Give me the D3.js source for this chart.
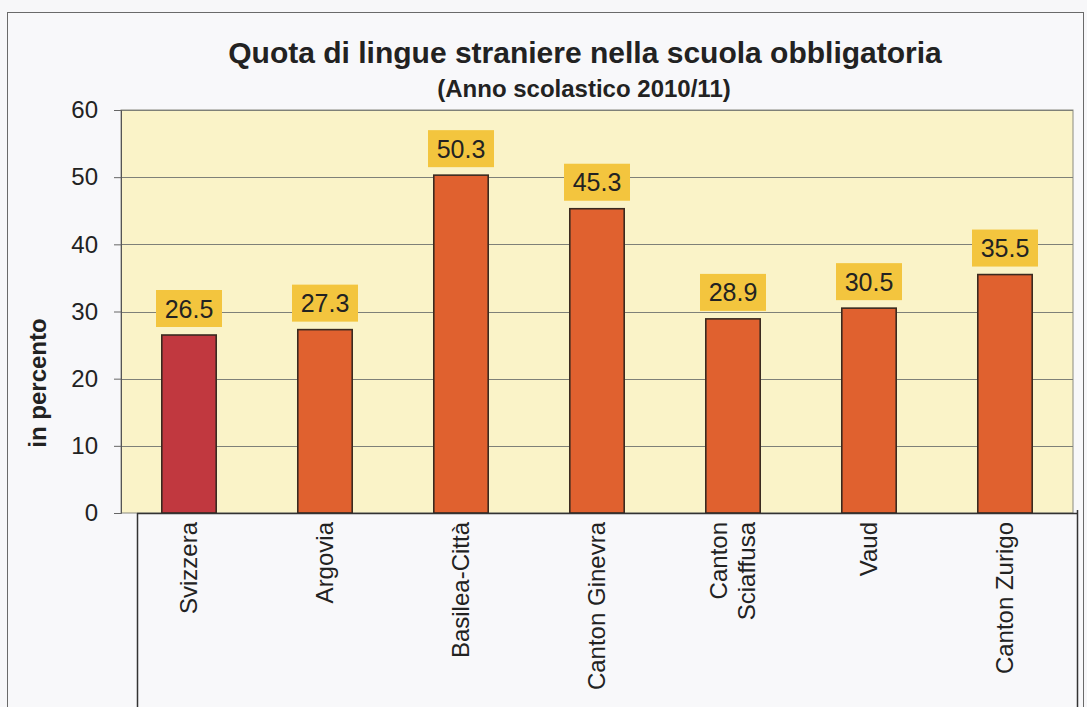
<!DOCTYPE html>
<html><head><meta charset="utf-8">
<script src="https://cdn.jsdelivr.net/npm/d3@7"></script>
<style>
html,body{margin:0;padding:0;background:#f7f7f9;}
text{font-family:"Liberation Sans",Arial,sans-serif;}
</style></head>
<body>
<svg id="c" width="1087" height="707"></svg>
<script>
const categories = [["Svizzera"],["Argovia"],["Basilea-Città"],["Canton Ginevra"],["Canton","Sciaffusa"],["Vaud"],["Canton Zurigo"]];
const values = [26.5, 27.3, 50.3, 45.3, 28.9, 30.5, 35.5];
const valueLabels = ["26.5","27.3","50.3","45.3","28.9","30.5","35.5"];
const yTicks = [0,10,20,30,40,50,60];
const title = "Quota di lingue straniere nella scuola obbligatoria";
const subtitle = "(Anno scolastico 2010/11)";
const yTitle = "in percento";

const svg = d3.select("#c");
const L = 121, R = 1073, T = 110, B = 513;

// outer frame
svg.append("rect").attr("x",7.5).attr("y",12.5).attr("width",1076).attr("height",720)
  .attr("fill","#f8f8fa").attr("stroke","#6a6a6a").attr("stroke-width",1);

const x = d3.scaleBand().domain(d3.range(categories.length)).range([L,R]).paddingInner(0.6).paddingOuter(0.3);
const y = d3.scaleLinear().domain([0,60]).range([B,T]);

// plot area
svg.append("rect").attr("x",L).attr("y",T).attr("width",R-L).attr("height",B-T)
  .attr("fill","#faf3c8").attr("stroke","#8a8a80").attr("stroke-width",1);

// gridlines
svg.append("g").selectAll("line").data(yTicks.filter(d=>d>0)).join("line")
  .attr("x1",L).attr("x2",R).attr("y1",d=>Math.round(y(d))+0.5).attr("y2",d=>Math.round(y(d))+0.5)
  .attr("stroke","#7e8078").attr("stroke-width",1);

// y axis
const yAxis = d3.axisLeft(y).tickValues(yTicks).tickSize(7).tickPadding(16);
const gy = svg.append("g").attr("transform",`translate(${L},0)`).call(yAxis);
gy.select(".domain").attr("stroke","#555");
gy.selectAll(".tick line").attr("stroke","#666");
gy.selectAll(".tick text").attr("font-size","24px").attr("fill","#222")
  .attr("font-family","'Liberation Sans',Arial,sans-serif");

// bars
svg.append("g").selectAll("rect").data(values).join("rect")
  .attr("x",(d,i)=>x(i)).attr("width",x.bandwidth())
  .attr("y",d=>y(d)).attr("height",d=>B-y(d))
  .attr("fill",(d,i)=>i===0?"#c1383f":"#e0612f")
  .attr("stroke","#3a2a20").attr("stroke-width",1.6);

// value labels
const lg = svg.append("g").selectAll("g").data(values).join("g")
  .attr("transform",(d,i)=>`translate(${x(i)+x.bandwidth()/2},${y(d)-26.5})`);
lg.append("rect").attr("x",-33).attr("y",-18.5).attr("width",66).attr("height",37).attr("fill","#f3c53e");
lg.append("text").text((d,i)=>valueLabels[i]).attr("text-anchor","middle").attr("dy","0.36em")
  .attr("font-size","25px").attr("fill","#222");

// category axis box
const bx = svg.append("g");
bx.append("line").attr("x1",137.5).attr("x2",137.5).attr("y1",B).attr("y2",707).attr("stroke","#333").attr("stroke-width",1.5);
bx.append("line").attr("x1",1077.5).attr("x2",1077.5).attr("y1",B-3).attr("y2",707).attr("stroke","#333").attr("stroke-width",1.5);
bx.append("line").attr("x1",137).attr("x2",1078).attr("y1",B+0.5).attr("y2",B+0.5).attr("stroke","#333").attr("stroke-width",1.6);

// category labels
const cg = svg.append("g").selectAll("text").data(categories).join("text")
  .attr("transform",(d,i)=>`translate(${x(i)+x.bandwidth()/2},522) rotate(-90)`)
  .attr("text-anchor","end").attr("font-size","24px").attr("fill","#222");
cg.selectAll("tspan").data(d=>d.map((t,k)=>({t,k,n:d.length}))).join("tspan")
  .attr("x",0).attr("y",o=>(o.k-(o.n-1)/2)*28).attr("dy","0.35em").text(o=>o.t);

// titles
svg.append("text").attr("x",585).attr("y",63).attr("text-anchor","middle")
  .attr("font-size","30px").attr("font-weight","bold").attr("fill","#222").text(title);
svg.append("text").attr("x",584).attr("y",97).attr("text-anchor","middle")
  .attr("font-size","24px").attr("font-weight","bold").attr("fill","#222").text(subtitle);
svg.append("text").attr("transform","translate(46,383) rotate(-90)").attr("text-anchor","middle")
  .attr("font-size","24px").attr("font-weight","bold").attr("fill","#222").text(yTitle);
</script>
</body></html>
